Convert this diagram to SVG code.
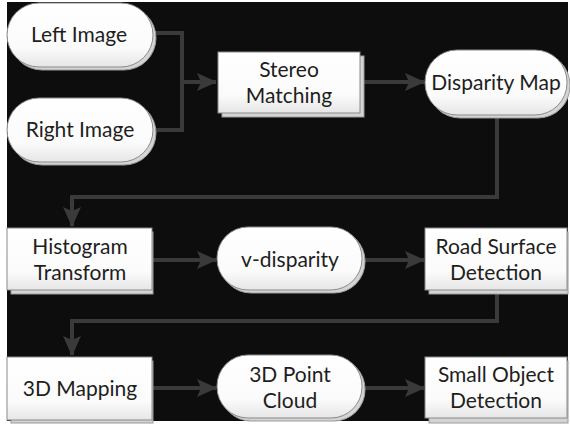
<svg xmlns="http://www.w3.org/2000/svg" width="570" height="427" viewBox="0 0 570 427">
  <defs>
    <linearGradient id="fill" x1="0" y1="0" x2="0" y2="1">
      <stop offset="0" stop-color="#ffffff"/>
      <stop offset="0.7" stop-color="#fbfbfb"/>
      <stop offset="1" stop-color="#e6e6e6"/>
    </linearGradient>
    <marker id="arrow" markerUnits="userSpaceOnUse" viewBox="0 0 20 18" refX="19" refY="9" markerWidth="20" markerHeight="18" orient="auto">
      <path d="M0,0 L20,9 L0,18 L4,9 Z" fill="#3a3a3a"/>
    </marker>
    <style>
      .bg { fill: #0d0d0d; }
      .shape { fill: url(#fill); stroke: #8a8a8a; stroke-width: 1; }
      .shadow { fill: #d4d4d4; stroke: #9a9a9a; stroke-width: 1; }
      .label { font-family: Lato, "Open Sans", "Liberation Sans", sans-serif; font-size: 21px; fill: #1e1e1e; text-anchor: middle; }
      .wire { fill: none; stroke: #3a3a3a; stroke-width: 4; stroke-linejoin: miter; }
    </style>
  </defs>

  <rect x="0" y="0" width="570" height="427" fill="#ffffff"/>
  <rect class="bg" x="7" y="2" width="561" height="419"/>

  <!-- connectors -->
  <g id="connectors">
    <path class="wire" d="M152,33 H182 V130 H152"/>
    <path class="wire" d="M182,82 H216" marker-end="url(#arrow)"/>
    <path class="wire" d="M360,82 H424" marker-end="url(#arrow)"/>
    <path class="wire" d="M497,115 V197 H72 V226" marker-end="url(#arrow)"/>
    <path class="wire" d="M152,260 H216" marker-end="url(#arrow)"/>
    <path class="wire" d="M362,260 H424" marker-end="url(#arrow)"/>
    <path class="wire" d="M497,291 V321 H72 V355" marker-end="url(#arrow)"/>
    <path class="wire" d="M152,388 H216" marker-end="url(#arrow)"/>
    <path class="wire" d="M362,388 H424" marker-end="url(#arrow)"/>
  </g>

  <!-- nodes -->
  <g id="left-image">
    <rect class="shadow" x="10" y="6" width="146" height="64" rx="32"/>
    <rect class="shape" x="7" y="3" width="146" height="64" rx="32"/>
    <text class="label" x="79" y="42">Left Image</text>
  </g>
  <g id="right-image">
    <rect class="shadow" x="10" y="101" width="146" height="64" rx="32"/>
    <rect class="shape" x="7" y="98" width="146" height="64" rx="32"/>
    <text class="label" x="80" y="137">Right Image</text>
  </g>
  <g id="stereo-matching">
    <rect class="shadow" x="222" y="56" width="142" height="61"/>
    <rect class="shape" x="218" y="52" width="142" height="61"/>
    <text class="label" x="289" y="77">Stereo</text>
    <text class="label" x="289" y="103">Matching</text>
  </g>
  <g id="disparity-map">
    <rect class="shadow" x="428" y="53" width="142" height="65" rx="32"/>
    <rect class="shape" x="425" y="50" width="142" height="65" rx="32"/>
    <text class="label" x="496" y="90">Disparity Map</text>
  </g>
  <g id="histogram-transform">
    <rect class="shadow" x="11" y="232" width="142" height="62"/>
    <rect class="shape" x="7" y="228" width="145" height="62"/>
    <text class="label" x="80" y="254">Histogram</text>
    <text class="label" x="80" y="280">Transform</text>
  </g>
  <g id="v-disparity">
    <rect class="shadow" x="220" y="230" width="145" height="63" rx="31"/>
    <rect class="shape" x="217" y="227" width="145" height="63" rx="31"/>
    <text class="label" x="290" y="267">v-disparity</text>
  </g>
  <g id="road-surface-detection">
    <rect class="shadow" x="429" y="232" width="139" height="62"/>
    <rect class="shape" x="425" y="228" width="142" height="62"/>
    <text class="label" x="496" y="254">Road Surface</text>
    <text class="label" x="496" y="280">Detection</text>
  </g>
  <g id="mapping-3d">
    <rect class="shadow" x="11" y="361" width="142" height="62"/>
    <rect class="shape" x="7" y="357" width="145" height="63"/>
    <text class="label" x="80" y="396">3D Mapping</text>
  </g>
  <g id="point-cloud">
    <rect class="shadow" x="220" y="358" width="145" height="63" rx="31"/>
    <rect class="shape" x="217" y="355" width="145" height="63" rx="31"/>
    <text class="label" x="290" y="382">3D Point</text>
    <text class="label" x="290" y="408">Cloud</text>
  </g>
  <g id="small-object-detection">
    <rect class="shadow" x="429" y="361" width="139" height="62"/>
    <rect class="shape" x="425" y="357" width="142" height="61"/>
    <text class="label" x="496" y="382">Small Object</text>
    <text class="label" x="496" y="408">Detection</text>
  </g>
</svg>
